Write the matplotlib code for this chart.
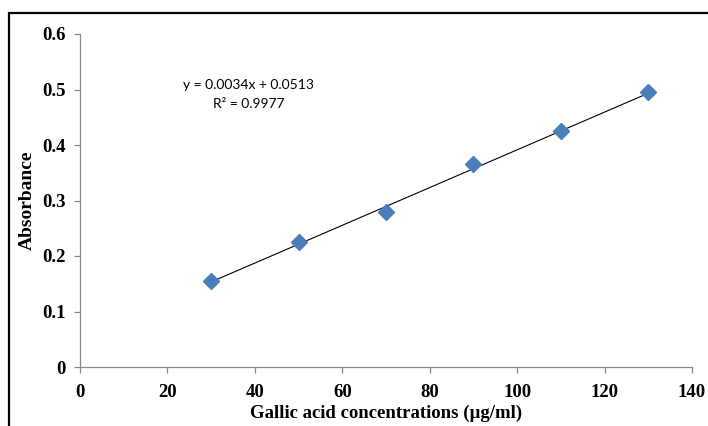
import matplotlib
matplotlib.use("Agg")
import matplotlib.pyplot as plt
import numpy as np
from matplotlib.patches import Rectangle

# data
conc = [30, 50, 70, 90, 110, 130]
absorb = [0.155, 0.225, 0.28, 0.365, 0.425, 0.495]
slope = 0.0034
intercept = 0.0513
eq_text = "y = 0.0034x + 0.0513"
r2_text = "R² = 0.9977"
x_ticks = [0, 20, 40, 60, 80, 100, 120, 140]
y_ticks = [0, 0.1, 0.2, 0.3, 0.4, 0.5, 0.6]

fig = plt.figure(figsize=(7.08, 4.26), dpi=100)
ax = fig.add_axes([80 / 708, 1 - 367 / 426, (692 - 80) / 708, (367 - 34) / 426])

# trendline
xl = np.array([min(conc), max(conc)])
ax.plot(xl, slope * xl + intercept, color="black", lw=0.8, zorder=2)
ax.plot(conc, absorb, linestyle="none", marker="D", markersize=8,
        color="#4a7ebb", markeredgecolor="#4a7ebb", zorder=3)

ax.set_xlim(0, 140)
ax.set_ylim(0, 0.6)
ax.set_xticks(x_ticks)
ax.set_yticks(y_ticks)
ax.set_xticklabels([str(t) for t in x_ticks])
ax.set_yticklabels(["0"] + ["%.1f" % t for t in y_ticks[1:]])

for s in ["top", "right"]:
    ax.spines[s].set_visible(False)
for s in ["left", "bottom"]:
    ax.spines[s].set_color("#888888")
    ax.spines[s].set_linewidth(0.9)
ax.tick_params(direction="out", length=4, width=0.9, color="#888888")
ax.tick_params(axis="x", pad=8)
ax.tick_params(axis="y", pad=6)
for lab in ax.get_xticklabels() + ax.get_yticklabels():
    lab.set_family("Liberation Serif")
    lab.set_fontweight("bold")
    lab.set_fontsize(13.5)

ax.set_xlabel("Gallic acid concentrations (µg/ml)", family="Liberation Serif",
              fontweight="bold", fontsize=13.5, labelpad=3)
ax.set_ylabel("Absorbance", family="Liberation Serif", fontweight="bold",
              fontsize=14, labelpad=5)

ax.text(38.6, 0.509, eq_text, family="Lato", fontsize=10,
        ha="center", va="center")
ax.text(38.6, 0.473, r2_text, family="Lato", fontsize=10,
        ha="center", va="center")

# outer frame (partly cut off)
fig.patches.append(Rectangle((9 / 708, -0.05), 1.2, 1 - 13 / 426 + 0.05,
                             transform=fig.transFigure, fill=False,
                             edgecolor="black", lw=1.6))

fig.savefig("out.png", dpi=100)
